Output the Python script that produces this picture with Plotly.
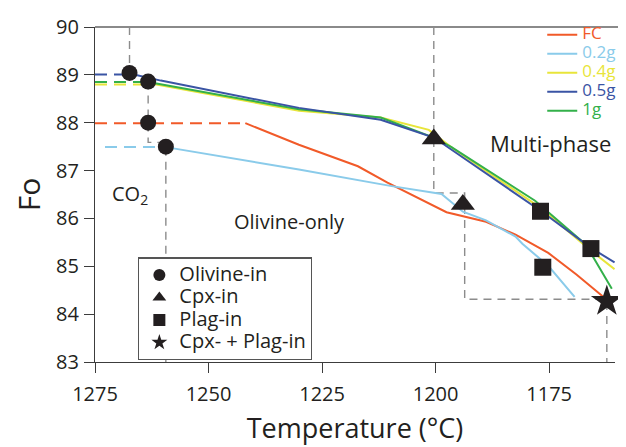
import plotly.graph_objects as go

# ---------------- data (Temperature in °C, Fo) ----------------
# Fractional crystallisation (FC)
fc_pre_T = [1275, 1241.9]
fc_pre_Fo = [87.99, 87.99]
fc_T = [1241.9, 1230.1, 1217.1, 1210.6, 1197.6, 1188.9, 1182.4, 1175.2, 1169.0, 1162.3]
fc_Fo = [87.99, 87.54, 87.09, 86.75, 86.13, 85.93, 85.66, 85.28, 84.83, 84.30]

# 0.2 g
g02_pre_T = [1272.8, 1259.4]
g02_pre_Fo = [87.49, 87.49]
g02_T = [1259.4, 1230.1, 1210.0, 1198.7, 1194.0, 1188.9, 1182.4, 1180.9, 1175.2, 1169.4]
g02_Fo = [87.49, 87.02, 86.68, 86.51, 86.14, 85.96, 85.62, 85.47, 85.01, 84.36]

# 0.4 g
g04_pre_T = [1275, 1263.3]
g04_pre_Fo = [88.80, 88.80]
g04_T = [1263.3, 1230.1, 1212.1, 1201.5, 1196.0, 1176.9, 1165.7, 1160.6]
g04_Fo = [88.83, 88.25, 88.11, 87.85, 87.45, 86.22, 85.32, 84.94]

# 0.5 g
g05_pre_T = [1275, 1267.4]
g05_pre_Fo = [89.01, 89.01]
g05_T = [1267.4, 1260.5, 1230.1, 1212.1, 1200.4, 1192.2, 1176.9, 1165.7, 1160.6]
g05_Fo = [89.03, 88.88, 88.31, 88.06, 87.69, 87.16, 86.16, 85.38, 85.08]

# 1 g
g1_pre_T = [1275, 1263.3]
g1_pre_Fo = [88.85, 88.85]
g1_T = [1263.3, 1230.1, 1212.1, 1200.4, 1196.5, 1178.1, 1166.9, 1161.2]
g1_Fo = [88.85, 88.28, 88.11, 87.69, 87.49, 86.37, 85.45, 84.53]

# phase-in markers
olivine_T = [1267.4, 1263.3, 1263.3, 1259.4]
olivine_Fo = [89.04, 88.86, 88.00, 87.50]
cpx_T = [1200.4, 1194.0]
cpx_Fo = [87.66, 86.29]
plag_T = [1176.9, 1176.4, 1165.8]
plag_Fo = [86.15, 84.98, 85.37]
both_T = [1162.3]
both_Fo = [84.27]

# dashed grey phase-boundary guides
guide1_T = [1267.4, 1267.4]
guide1_Fo = [90.0, 89.04]
guide2_T = [1263.3, 1263.3, 1259.4, 1259.4]
guide2_Fo = [88.86, 87.59, 87.59, 83.0]
guide3_T = [1200.4, 1200.4, 1193.6, 1193.6, 1162.3, 1162.3]
guide3_Fo = [90.0, 86.53, 86.53, 84.31, 84.31, 83.0]

x_ticks = [1275, 1250, 1225, 1200, 1175]
y_ticks = [83, 84, 85, 86, 87, 88, 89, 90]

# ---------------- style ----------------
FONT = "Open Sans"
C_FC = "#F15A29"
C_02 = "#8ACBEA"
C_04 = "#E8E53A"
C_05 = "#3A54A4"
C_1 = "#33B04A"
C_GUIDE = "#8C8C8C"
C_MK = "#231F20"
AX = "#3C3C3C"

fig = go.Figure()

for gx, gy in [(guide1_T, guide1_Fo), (guide2_T, guide2_Fo), (guide3_T, guide3_Fo)]:
    fig.add_trace(go.Scatter(x=gx, y=gy, mode="lines", showlegend=False, hoverinfo="skip",
                             line=dict(color=C_GUIDE, width=1.4, dash="8px,6px")))

series = [
    ("FC", C_FC, fc_pre_T, fc_pre_Fo, fc_T, fc_Fo),
    ("0.2g", C_02, g02_pre_T, g02_pre_Fo, g02_T, g02_Fo),
    ("0.4g", C_04, g04_pre_T, g04_pre_Fo, g04_T, g04_Fo),
    ("1g", C_1, g1_pre_T, g1_pre_Fo, g1_T, g1_Fo),
    ("0.5g", C_05, g05_pre_T, g05_pre_Fo, g05_T, g05_Fo),
]
legend_rank = {"FC": 1, "0.2g": 2, "0.4g": 3, "0.5g": 4, "1g": 5}
for name, col, px_, py_, sx, sy in series:
    fig.add_trace(go.Scatter(x=px_, y=py_, mode="lines", showlegend=False, hoverinfo="skip",
                             line=dict(color=col, width=2, dash="12px,7px")))
    fig.add_trace(go.Scatter(x=sx, y=sy, mode="lines", legend="legend",
                             legendrank=legend_rank[name],
                             name=f"<span style='color:{col};font-size:17px'>{name}</span>",
                             line=dict(color=col, width=2)))

markers = [
    ("Olivine-in", "circle", 16, olivine_T, olivine_Fo),
    ("Cpx-in", "triangle-up", 21, cpx_T, cpx_Fo),
    ("Plag-in", "square", 17, plag_T, plag_Fo),
    ("Cpx- + Plag-in", "star", 24, both_T, both_Fo),
]
for i, (name, sym, sz, mx, my) in enumerate(markers):
    fig.add_trace(go.Scatter(x=mx, y=my, mode="markers", legend="legend2", legendrank=10 + i,
                             name=f"<span style='font-size:20px'>{name}</span>",
                             marker=dict(symbol=sym, size=sz, color=C_MK, line=dict(width=0)),
                             cliponaxis=False))

fig.add_annotation(x=1267.2, y=86.5, text="CO<sub>2</sub>", showarrow=False,
                   font=dict(family=FONT, size=20, color="#231F20"))
fig.add_annotation(x=1232.1, y=85.94, text="Olivine-only", showarrow=False,
                   font=dict(family=FONT, size=20, color="#231F20"))
fig.add_annotation(x=1174.6, y=87.57, text="Multi-phase", showarrow=False,
                   font=dict(family=FONT, size=22, color="#231F20"))

# top frame line
fig.add_shape(type="line", xref="paper", yref="paper", x0=0, x1=1.01, y0=1, y1=1,
              line=dict(color="#8A8A8A", width=2))

axis_common = dict(showgrid=False, zeroline=False, showline=True, linecolor=AX, linewidth=1.3,
                   ticks="outside", ticklen=10, tickwidth=1.3, tickcolor=AX,
                   ticklabeloverflow="allow",
                   tickfont=dict(family=FONT, size=20, color="#231F20"))

# the page body adds an 8px offset, so the figure is sized to end at the window edge
fig.update_layout(
    width=618, height=439,
    margin=dict(l=85, r=5, t=11, b=85),
    plot_bgcolor="white", paper_bgcolor="white",
    font=dict(family=FONT, color="#231F20"),
    xaxis=dict(range=[1275, 1160.5], tickvals=x_ticks, ticktext=[str(v) for v in x_ticks],
               ticklabelstandoff=4,
               title=dict(text="Temperature (°C)", font=dict(family=FONT, size=27), standoff=12),
               **axis_common),
    yaxis=dict(range=[83, 90], tickvals=y_ticks, ticktext=[str(v) for v in y_ticks],
               ticklabelstandoff=1,
               title=dict(text="Fo", font=dict(family=FONT, size=30), standoff=22),
               **axis_common),
    legend=dict(x=1.012, y=1.02, xanchor="right", yanchor="top", bgcolor="rgba(0,0,0,0)",
                borderwidth=0, font=dict(family=FONT, size=12), tracegroupgap=0,
                traceorder="normal"),
    legend2=dict(x=0.083, y=0.312, xanchor="left", yanchor="top", bgcolor="white",
                 bordercolor="#555555", borderwidth=1.2, font=dict(family=FONT, size=15),
                 itemsizing="constant", traceorder="normal"),
)

fig.write_html("out.html")
